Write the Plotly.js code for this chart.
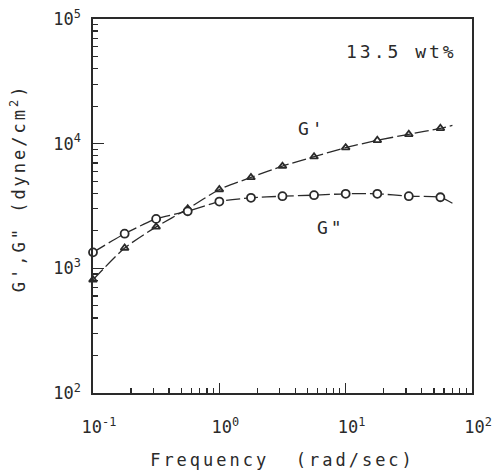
<!DOCTYPE html>
<html>
<head>
<meta charset="utf-8">
<script src="https://cdn.plot.ly/plotly-3.0.1.min.js"></script>
<style>
  html, body { margin: 0; padding: 0; background: #fff; }
  #chart { width: 496px; height: 472px; }
  .xtitle { letter-spacing: 3px; }
  .annotation-text { letter-spacing: 3px; }
</style>
</head>
<body>
<div id="chart"></div>
<script>
// Frequency (rad/sec)
const freq = [0.1, 0.178, 0.316, 0.562, 1.0, 1.78, 3.16, 5.62, 10, 17.8, 31.6, 56.2];
// G' storage modulus (dyne/cm2) - triangles
const gPrime = [810, 1456, 2150, 3000, 4290, 5360, 6600, 7860, 9290, 10640, 11890, 13280];
// G" loss modulus (dyne/cm2) - circles
const gDouble = [1343, 1897, 2493, 2871, 3434, 3680, 3788, 3862, 3963, 3963, 3788, 3718];
// dashed fitted curves (extend slightly past the last measurement)
const fitFreq = [0.1, 0.178, 0.316, 0.562, 1.0, 1.78, 3.16, 5.62, 10, 17.8, 31.6, 56.2, 70];
const fitGPrime = [810, 1456, 2150, 3000, 4290, 5360, 6600, 7860, 9290, 10640, 11890, 13280, 14000];
const fitGDouble = [1343, 1897, 2493, 2871, 3434, 3680, 3788, 3862, 3963, 3963, 3788, 3718, 3330];

const xTickVals = [0.1, 1, 10, 100];
const xTickText = ['10<sup>-1</sup>', '10<sup>0</sup>', '10<sup>1</sup>', '10<sup>2</sup>'];
const yTickVals = [100, 1000, 10000, 100000];
const yTickText = ['10<sup>2</sup>', '10<sup>3</sup>', '10<sup>4</sup>', '10<sup>5</sup>'];

const ink = '#2a2a2a';
const mono = 'DejaVu Sans Mono, Liberation Mono, monospace';

const traces = [
  {x: fitFreq, y: fitGPrime, mode: 'lines', line: {color: ink, width: 1.3, dash: '14px,4px', shape: 'spline', smoothing: 0.6}, hoverinfo: 'skip', showlegend: false, cliponaxis: false},
  {x: fitFreq, y: fitGDouble, mode: 'lines', line: {color: ink, width: 1.3, dash: '14px,4px', shape: 'spline', smoothing: 0.6}, hoverinfo: 'skip', showlegend: false, cliponaxis: false},
  {x: freq, y: gPrime, mode: 'markers', name: "G'", cliponaxis: false,
   marker: {symbol: 'triangle-up-open', size: 7, color: ink, line: {color: ink, width: 1.8}}},
  {x: freq, y: gDouble, mode: 'markers', name: 'G"', cliponaxis: false,
   marker: {symbol: 'circle', size: 8, color: '#ffffff', line: {color: ink, width: 1.8}}}
];

const layout = {
  width: 496, height: 472,
  margin: {l: 93, r: 24, t: 19, b: 79},
  paper_bgcolor: '#ffffff', plot_bgcolor: '#ffffff',
  showlegend: false,
  font: {family: mono, color: ink, size: 16},
  xaxis: {
    type: 'log', range: [-1, 2],
    tickmode: 'array', tickvals: xTickVals, ticktext: xTickText,
    ticks: 'inside', ticklen: 10, tickwidth: 1.3, tickcolor: ink,
    minor: {ticks: 'inside', ticklen: 5, tickwidth: 1.2, tickcolor: ink, dtick: 'D1', showgrid: false},
    showline: true, mirror: true, linecolor: ink, linewidth: 1.6,
    showgrid: false, zeroline: false,
    tickfont: {family: mono, size: 17, color: ink},
    ticklabelstandoff: 18, ticklabelshift: 6, ticklabeloverflow: 'allow',
    title: {text: 'Frequency  (rad/sec)', font: {family: mono, size: 17, color: ink}, standoff: 18}
  },
  yaxis: {
    type: 'log', range: [2, 5],
    tickmode: 'array', tickvals: yTickVals, ticktext: yTickText,
    ticks: 'inside', ticklen: 11, tickwidth: 1.3, tickcolor: ink,
    minor: {ticks: 'inside', ticklen: 5, tickwidth: 1.2, tickcolor: ink, dtick: 'D1', showgrid: false},
    showline: true, mirror: true, linecolor: ink, linewidth: 1.6,
    showgrid: false, zeroline: false,
    tickfont: {family: mono, size: 17, color: ink},
    ticklabelstandoff: 7, ticklabeloverflow: 'allow'
  },
  annotations: [
    {text: 'G\',G" (dyne/cm<sup>2</sup>)', xref: 'paper', yref: 'paper', x: -0.198, y: 0.55,
     textangle: -90, showarrow: false, font: {family: mono, size: 17, color: ink},
     xanchor: 'center', yanchor: 'middle'},
    {text: '13.5 wt%', xref: 'paper', yref: 'paper', x: 0.815, y: 0.912, showarrow: false,
     font: {family: mono, size: 18, color: ink}, xanchor: 'center', yanchor: 'middle'},
    {text: "G'", xref: 'x', yref: 'y', x: Math.log10(5.4), y: Math.log10(13300), showarrow: false,
     font: {family: mono, size: 18, color: ink}, xanchor: 'center', yanchor: 'middle'},
    {text: 'G"', xref: 'x', yref: 'y', x: Math.log10(7.6), y: Math.log10(2120), showarrow: false,
     font: {family: mono, size: 18, color: ink}, xanchor: 'center', yanchor: 'middle'}
  ]
};

Plotly.newPlot('chart', traces, layout, {displayModeBar: false, staticPlot: true});
</script>
</body>
</html>
